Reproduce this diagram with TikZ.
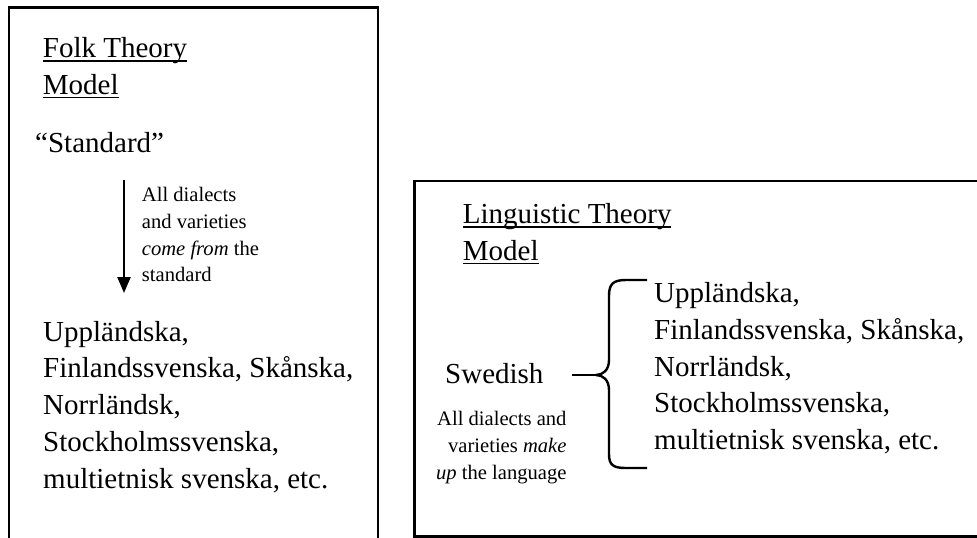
\documentclass[tikz,border=0pt]{standalone}
\usepackage{fontspec}
\setmainfont{Liberation Serif}
\usetikzlibrary{arrows.meta}
\newcommand\ulword[1]{\setbox0\hbox{#1}\rlap{\rule[-4.4pt]{\wd0}{1.8pt}}\box0}
\tikzset{
  frame/.style={draw, line width=2.4pt},
  bigtext/.style={inner sep=0pt, align=left, font=\fontsize{29}{36.7}\selectfont},
  smalltext/.style={inner sep=0pt, font=\fontsize{20.6}{26.6}\selectfont},
  link/.style={line width=2.4pt},
}
\begin{document}
\begin{tikzpicture}[x=1pt,y=-1pt]
\useasboundingbox (0,0) rectangle (977,538);
\clip (0,0) rectangle (977,538);
% frames
\draw[frame] (8.7,7.3) rectangle (377.7,600);
\draw[frame] (414.5,181) rectangle (1000,536.5);
% left panel (base anchor = baseline of last line)
\node[bigtext, anchor=base west] (folk) at (42.7,94) {\ulword{Folk Theory}\\\ulword{Model}};
\node[bigtext, anchor=base west] (std) at (35,152.3) {“Standard”};
\node[smalltext, align=left, anchor=base west] (come) at (141.7,281.7) {All dialects\\and varieties\\\textit{come from} the\\standard};
\coordinate (atop) at (124,180);
\coordinate (atip) at (124,293);
\draw[line width=2.3pt, -{Triangle[width=13pt,length=16pt]}] (atop) -- (atip);
\node[bigtext, anchor=base west] (listL) at (43,488) {Uppländska,\\Finlandssvenska, Skånska,\\Norrländsk,\\Stockholmssvenska,\\multietnisk svenska, etc.};
% right panel
\node[bigtext, anchor=base west] (ling) at (462.7,260) {\ulword{Linguistic Theory}\\\ulword{Model}};
\node[bigtext, anchor=base west] (swe) at (445,383.3) {Swedish};
\node[smalltext, align=right, anchor=base east] (make) at (566.7,479) {All dialects and\\varieties \textit{make}\\\textit{up} the language};
\node[bigtext, anchor=base west] (listR) at (654,449.5) {Uppländska,\\Finlandssvenska, Skånska,\\Norrländsk,\\Stockholmssvenska,\\multietnisk svenska, etc.};
% brace
\coordinate (lstart) at (572,375);
\coordinate (cusp) at (596,375);
\draw[link] (lstart) -- (cusp);
\draw[link, line join=round] (647,280) -- (626,280) .. controls (613,280) and (609,284) .. (609,296)
  -- (609,360) .. controls (609,370) and (603,375) .. (cusp)
  .. controls (603,375) and (609,380) .. (609,390)
  -- (609,454) .. controls (609,465) and (613,468) .. (626,468) -- (647,468);
\end{tikzpicture}
\end{document}
